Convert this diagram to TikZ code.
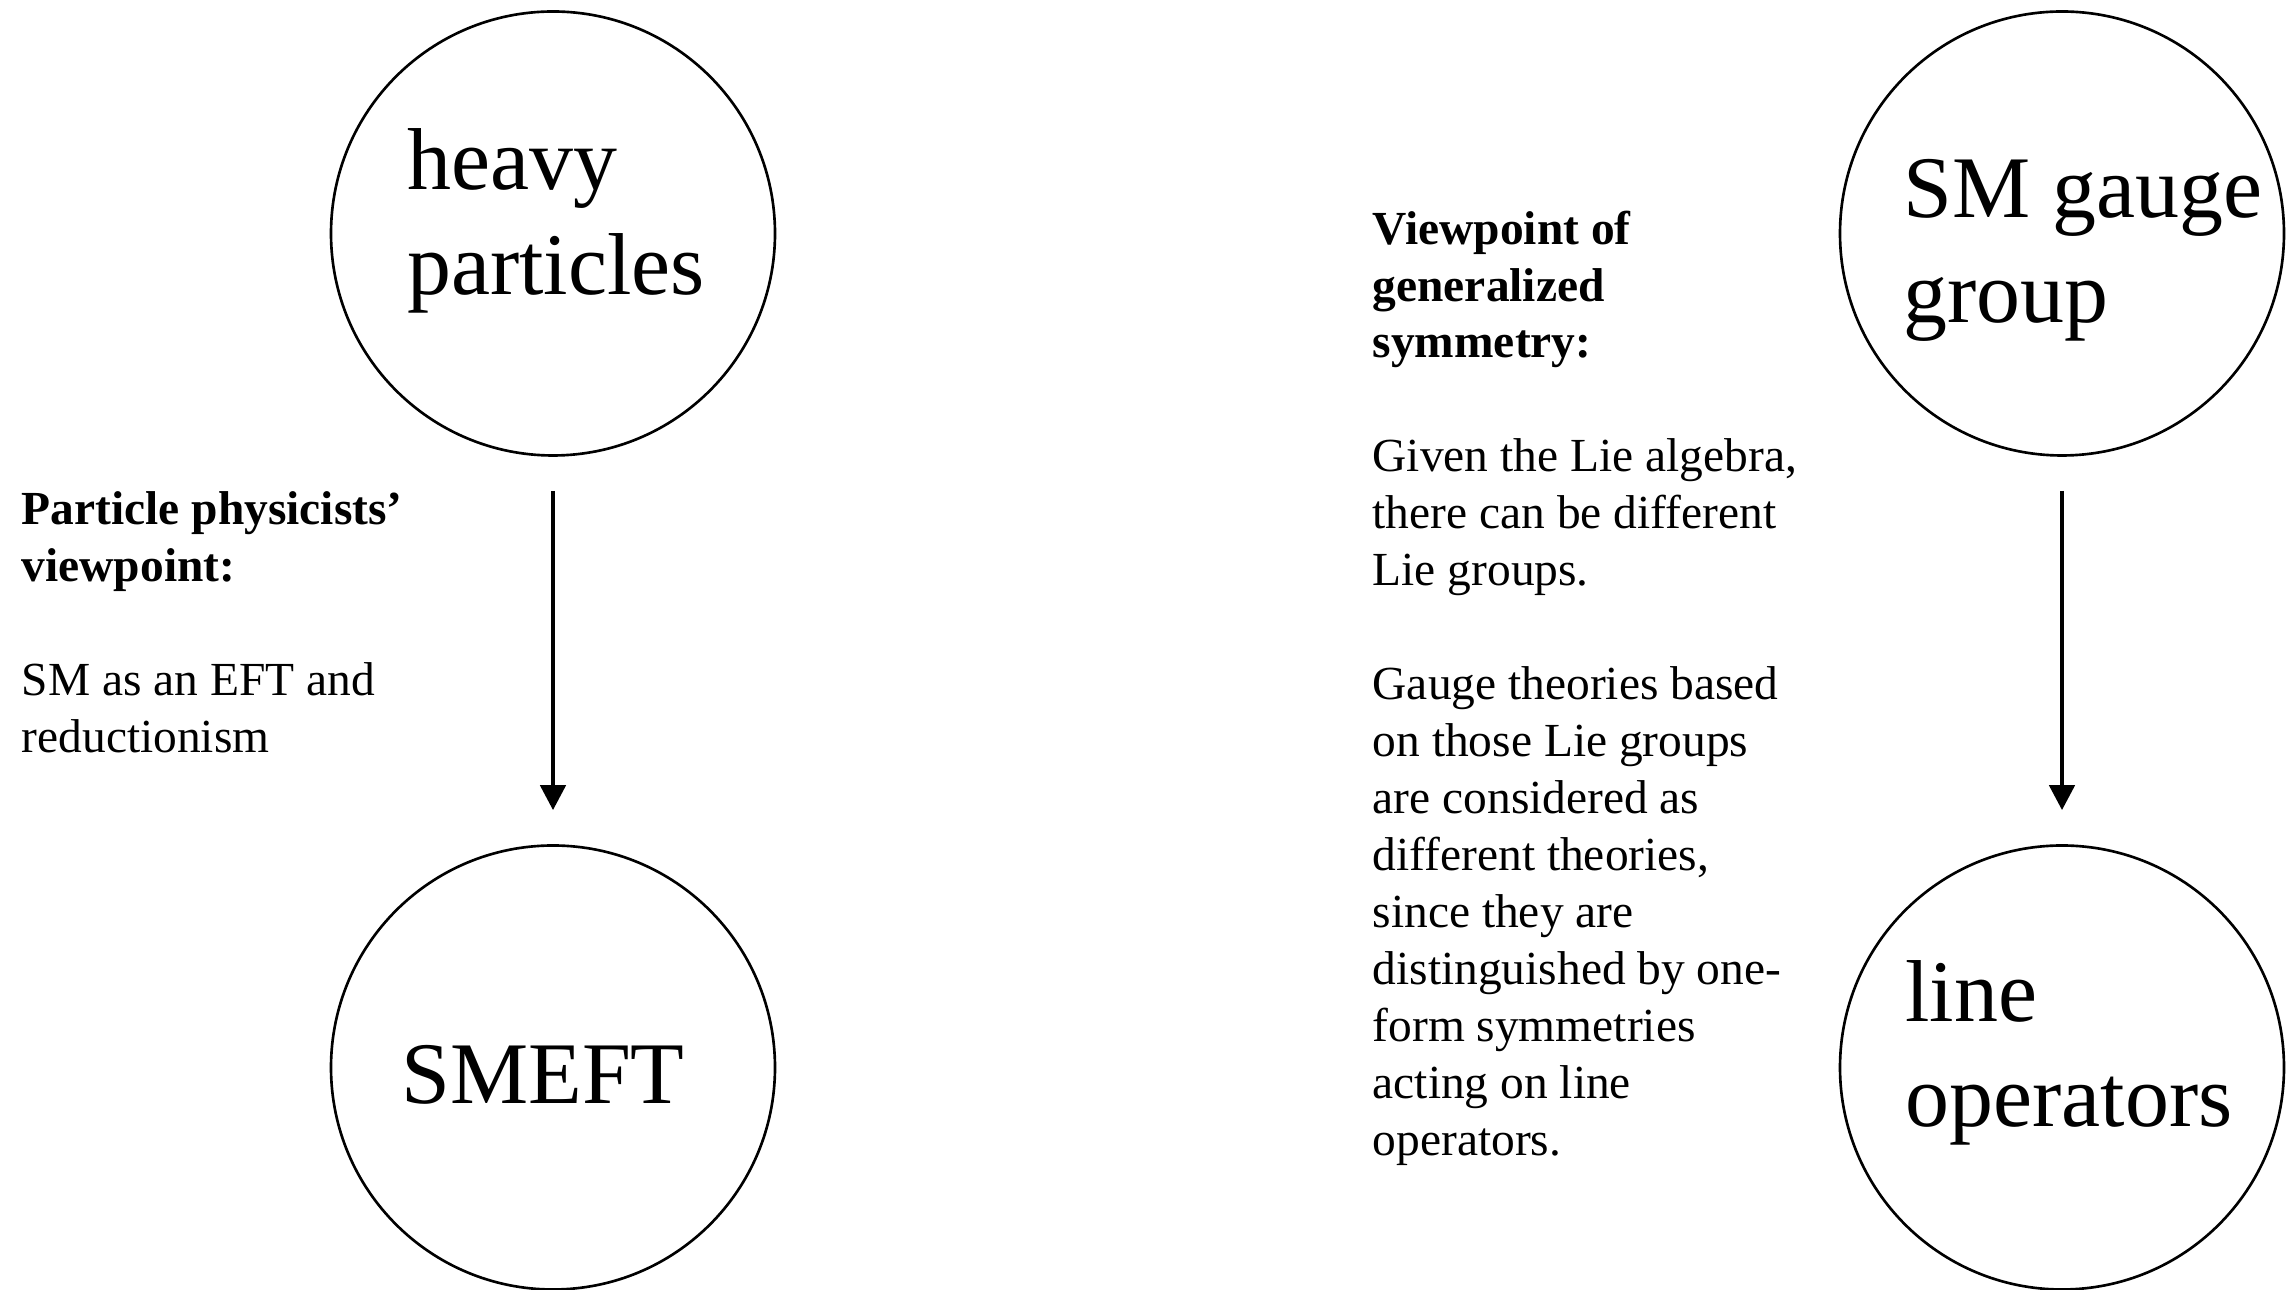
\documentclass[tikz,border=0pt]{standalone}
\usepackage{fontspec}
\setmainfont{Liberation Serif}
\usetikzlibrary{arrows.meta}
\begin{document}
\begin{tikzpicture}[
        bubble/.style={draw, circle, line width=0.75pt, minimum size=4.44cm, inner sep=0pt},
        bigtext/.style={inner sep=0pt, align=left, font=\fontsize{25}{29.9}\selectfont},
        note/.style={anchor=north west, inner sep=0pt, align=left, font=\fontsize{13.5}{16.2}\selectfont},
        flow/.style={-{Triangle[length=2.5mm, width=2.5mm]}, line width=1.3pt, shorten <=0.34cm, shorten >=0.34cm}
    ]
            \useasboundingbox (0,0) rectangle (22.88,12.90);

            \node[bubble] (heavy) at (5.53,10.565) {};
            \node[bubble] (SMEFT) at (5.53,2.225) {};
            \node[bubble] (gauge) at (20.62,10.565) {};
            \node[bubble] (lineops) at (20.62,2.225) {};

            \node[bigtext] (heavytext) at ([xshift=0.03cm, yshift=0.13cm]heavy.center) {heavy\\particles};
            \node[bigtext] (SMEFTtext) at ([xshift=-0.1cm, yshift=-0.07cm]SMEFT.center) {SMEFT};
            \node[bigtext] (gaugetext) at ([xshift=0.21cm, yshift=-0.17cm]gauge.center) {SM gauge\\group};
            \node[bigtext] (lineopstext) at ([xshift=0.07cm, yshift=0.15cm]lineops.center) {line\\operators};

            \draw[flow] (heavy) -- (SMEFT);
            \draw[flow] (gauge) -- (lineops);

            \node[note] (ppview) at (0.21,7.99) {\textbf{Particle physicists’}\\\textbf{viewpoint:}\\[16.2pt]SM as an EFT and\\reductionism};
            \node[note] (gsview) at (13.72,10.80) {\textbf{Viewpoint of}\\\textbf{generalized}\\\textbf{symmetry:}\\[16.2pt]Given the Lie algebra,\\there can be different\\Lie groups.\\[16.2pt]Gauge theories based\\on those Lie groups\\are considered as\\different theories,\\since they are\\distinguished by one-\\form symmetries\\acting on line\\operators.};

        \end{tikzpicture}
\end{document}
